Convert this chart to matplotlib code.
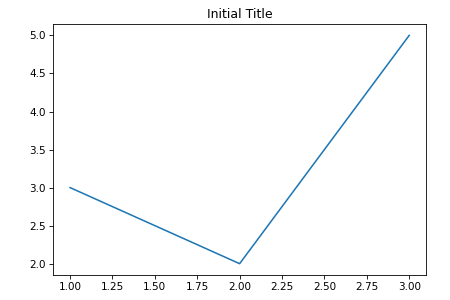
import matplotlib
matplotlib.use("Agg")
import matplotlib.pyplot as plt

# data
x = [1, 2, 3]
y = [3, 2, 5]

fig, ax = plt.subplots(figsize=(6, 4), dpi=75)
ax.plot(x, y)
ax.set_title("Initial Title")
fig.subplots_adjust(left=0.118, right=0.947, top=0.92, bottom=0.083)
fig.savefig("out.png")
